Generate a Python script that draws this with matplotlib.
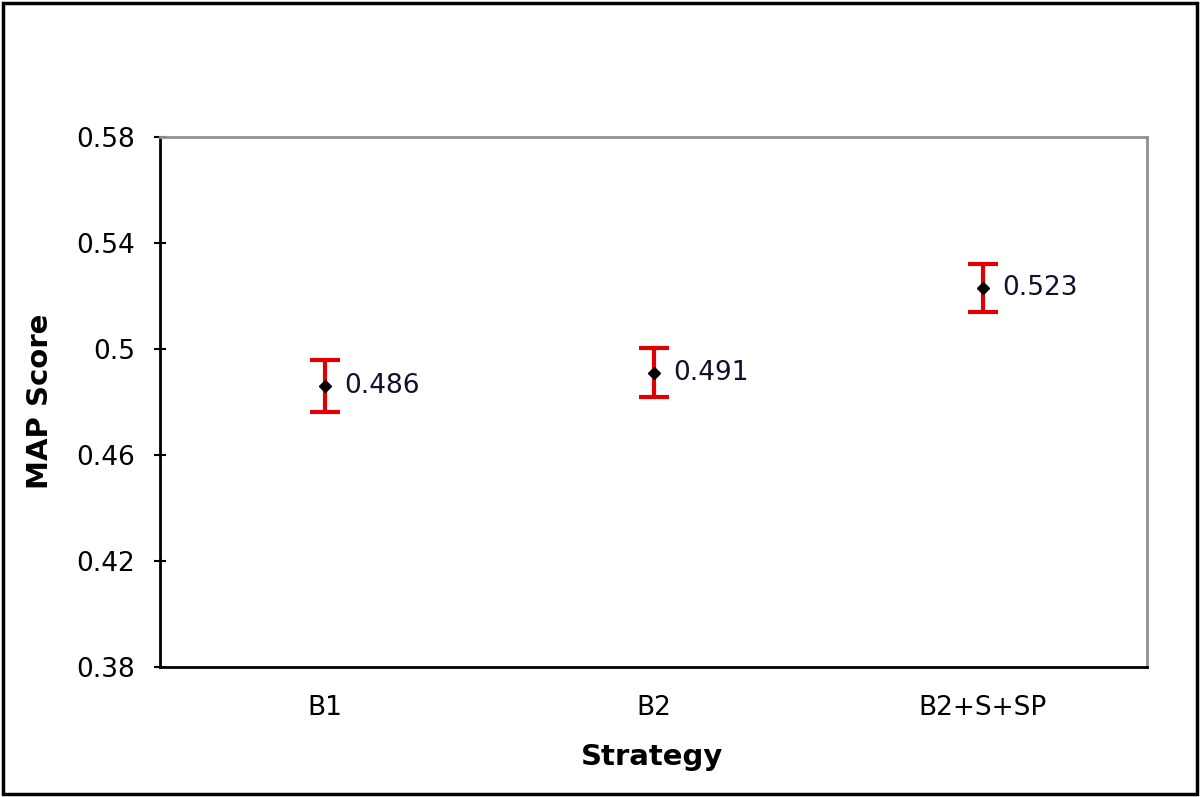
import matplotlib
matplotlib.use("Agg")
import matplotlib.pyplot as plt
from matplotlib.patches import Rectangle

categories = ["B1", "B2", "B2+S+SP"]
map_scores = [0.486, 0.491, 0.523]
errors = [0.0098, 0.0093, 0.0091]
y_ticks = [0.38, 0.42, 0.46, 0.5, 0.54, 0.58]
y_tick_labels = ["0.38", "0.42", "0.46", "0.5", "0.54", "0.58"]

plt.rcParams['font.family'] = ['DejaVu Sans']

fig = plt.figure(figsize=(12, 7.97), dpi=100)
ax = fig.add_axes([160/1200, 1-667/797, (1147-160)/1200, (667-137)/797])

x = list(range(len(categories)))
ax.errorbar(x, map_scores, yerr=errors, fmt='none', ecolor='#e00000',
            elinewidth=3, capsize=11, capthick=3, zorder=2)
ax.plot(x, map_scores, linestyle='none', marker='D', markersize=6,
        color='black', zorder=3)
for xi, v in zip(x, map_scores):
    ax.annotate(f"{v:.3f}", (xi, v), xytext=(14, 0), textcoords='offset points',
                va='center', ha='left', fontsize=19, color='#101030')

ax.set_xlim(-0.5, 2.5)
ax.set_ylim(0.38, 0.58)
ax.set_yticks(y_ticks)
ax.set_yticklabels(y_tick_labels, fontsize=19)
ax.set_xticks(x)
ax.set_xticklabels(categories, fontsize=19)
ax.tick_params(axis='x', length=0, pad=20)
ax.tick_params(axis='y', direction='inout', length=8, width=1.5, pad=14)

for s in ['left', 'bottom']:
    ax.spines[s].set_color('black')
    ax.spines[s].set_linewidth(2)
for s in ['top', 'right']:
    ax.spines[s].set_color('#909090')
    ax.spines[s].set_linewidth(2)

fig.text(40/1200, 1-401/797, "MAP Score", rotation=90, fontsize=21,
         fontweight='bold', ha='center', va='center')
fig.text(652/1200, 1-757/797, "Strategy", fontsize=21,
         fontweight='bold', ha='center', va='center')

fig.patches.append(Rectangle((3/1200, 3/797), 1194/1200, 791/797,
                             transform=fig.transFigure, fill=False,
                             edgecolor='black', linewidth=2.5))

fig.savefig("out.png", dpi=100)
